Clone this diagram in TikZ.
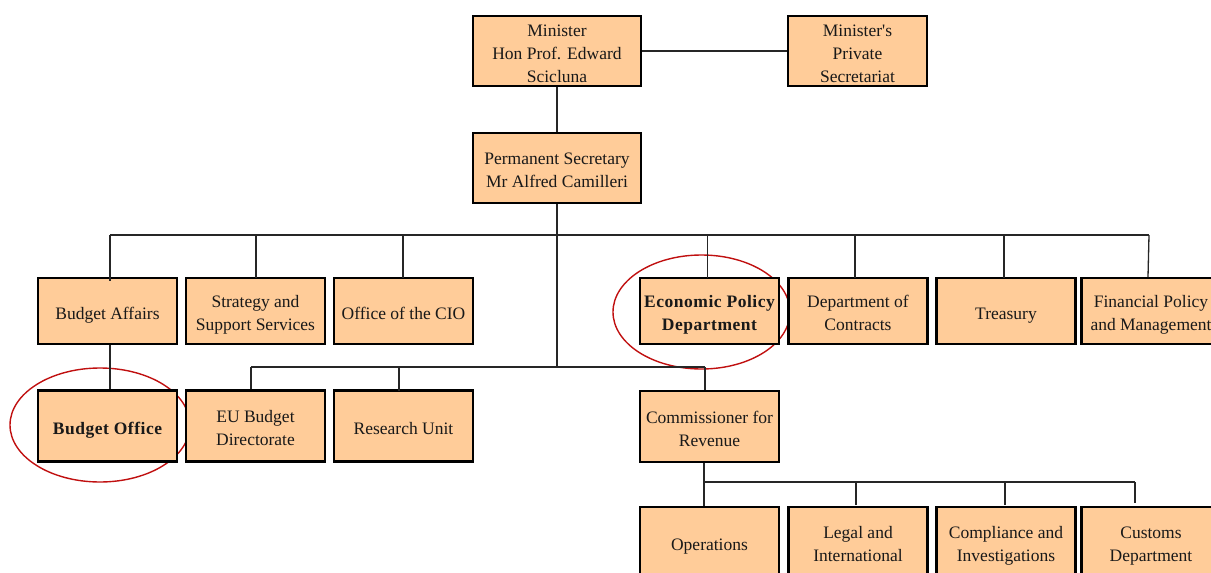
\documentclass[tikz,border=0pt]{standalone}
\usepackage{fontspec}
\setmainfont{Liberation Serif}[Ligatures=TeXOff, BoldFeatures={LetterSpace=3}]
\definecolor{boxfill}{RGB}{255,204,153}
\definecolor{ringred}{RGB}{192,16,16}
% fixed-height strut for the first line of every box label
\newcommand{\boxtop}{\rule{0pt}{20pt}}
\tikzset{
  unit/.style={draw=black, fill=boxfill, line width=2.4pt, inner sep=0pt,
    align=center, text=black!90, font=\fontsize{17.5}{23}\selectfont,
    execute at end node={\rule[-3.8pt]{0pt}{0pt}}},
  wide/.style={unit, minimum width=168pt, minimum height=70pt},
  cell/.style={unit, minimum width=139pt, minimum height=66pt},
  tall/.style={unit, minimum width=139pt, minimum height=71pt},
  link/.style={draw=black!85, line width=1.3pt},
  ring/.style={draw=ringred, line width=1.4pt},
  keyname/.style={font=\fontsize{17.5}{23}\selectfont\bfseries}
}
\begin{document}
\begin{tikzpicture}[x=1pt, y=-1pt]
\useasboundingbox (0,0) rectangle (1211,573);
\clip (0,0) rectangle (1211,573);

% highlight rings (behind the boxes)
\draw[ring] (100,425) ellipse [x radius=90, y radius=57];
\draw[ring] (701.5,312) ellipse [x radius=88.5, y radius=57];

% top level
\node[wide] (min) at (557,51) {\boxtop Minister\\Hon Prof. Edward\\Scicluna};
\node[cell, minimum height=70pt] (priv) at (857.5,51) {\boxtop Minister's\\Private\\Secretariat};
\node[wide] (ps) at (557,168) {\boxtop Permanent Secretary\\Mr Alfred Camilleri};

% second row
\node[cell] (ba)  at (107.5,311) {\boxtop Budget Affairs};
\node[cell] (ss)  at (255.5,311) {\boxtop Strategy and\\Support Services};
\node[cell] (cio) at (403.5,311) {\boxtop Office of the CIO};
\node[cell, keyname] (epd) at (709.5,311) {\boxtop Economic Policy\\Department};
\node[cell] (doc) at (858,311) {\boxtop Department of\\Contracts};
\node[cell] (tre) at (1006,311) {\boxtop Treasury};
\node[cell] (fpm) at (1151,311) {\boxtop Financial Policy\\and Management};

% third row
\node[tall, keyname] (bo) at (107.5,426) {\boxtop Budget Office};
\node[tall] (eu)  at (255.5,426) {\boxtop EU Budget\\Directorate};
\node[tall] (ru)  at (403.5,426) {\boxtop Research Unit};
\node[tall] (cfr) at (709.5,426.5) {\boxtop Commissioner for\\Revenue};

% revenue units
\node[cell, minimum height=70pt] (ops) at (709.5,542) {\boxtop Operations};
\node[cell, minimum height=70pt] (leg) at (858,542) {\boxtop Legal and\\International};
\node[cell, minimum height=70pt] (cmp) at (1006,542) {\boxtop Compliance and\\Investigations};
\node[cell, minimum height=70pt] (cus) at (1151,542) {\boxtop Customs\\Department};

% bus coordinates
\coordinate (busA) at (110,235);
\coordinate (busAend) at (1149,235);
\coordinate (busB) at (251,367);
\coordinate (busBend) at (705,367);
\coordinate (busC) at (704,482);
\coordinate (busCend) at (1135,482);

% connectors
\draw[link] (min) -- (priv);
\draw[link] (min) -- (ps);
\draw[link] (ps.south) -- (ps.south |- busB);
\draw[link] (busA) -- (busAend);
\draw[link] (busB) -- (busBend);
\draw[link] (busC) -- (busCend);

\draw[link] (busA) -- ([yshift=-4pt]busA |- ba.north);
\draw[link] (256,235) -- (256,278);
\draw[link] (403,235) -- (403,278);
\draw[link] (707.5,235) -- (707.5,278);
\draw[link] (855,235) -- (855,278);
\draw[link] (1004,235) -- (1004,278);
\draw[link] (busAend) -- (1148,277);

\draw[link] (ba.south -| busA) -- (bo.north -| busA);
\draw[link] (busB) -- (busB |- eu.north);
\draw[link] (399,367) -- (399,391);
\draw[link] (busBend) -- (busBend |- cfr.north);

\draw[link] (cfr.south -| busC) -- (busC) -- (busC |- ops.north);
\draw[link] (856,482) -- (856,505);
\draw[link] (1005,482) -- (1005,505);
\draw[link] (busCend) -- (1135,503);
\end{tikzpicture}
\end{document}
